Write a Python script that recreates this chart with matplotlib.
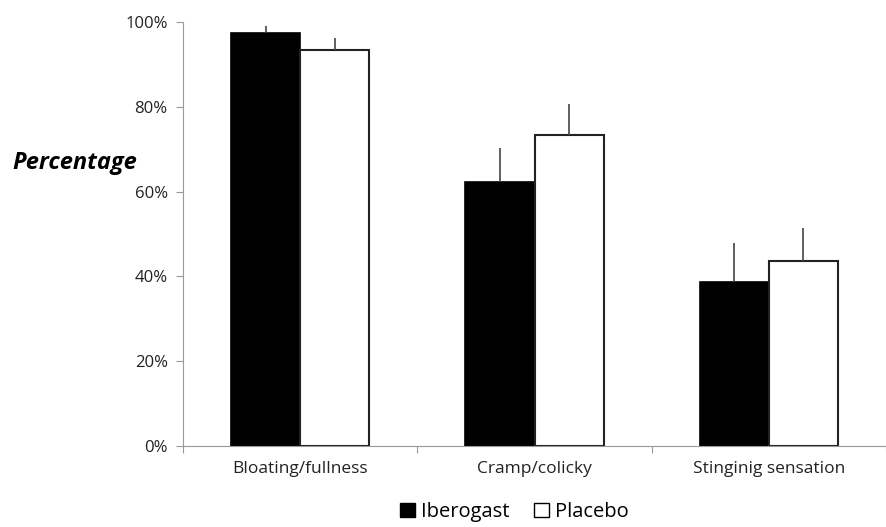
import numpy as np
import matplotlib.pyplot as plt
from matplotlib.patches import Patch

categories = ['Bloating/fullness', 'Cramp/colicky', 'Stinginig sensation']
iberogast = [97.4, 62.3, 38.7]
iberogast_err = [1.7, 8.0, 9.2]
placebo = [93.4, 73.3, 43.6]
placebo_err = [2.8, 7.4, 7.8]

plt.rcParams['font.family'] = ['Open Sans', 'DejaVu Sans']

fig = plt.figure(figsize=(8.87, 5.27), dpi=100)
ax = fig.add_axes([0.2063, 0.1537, 0.7927, 0.8046])

x = np.arange(len(categories)) + 0.5
w = 0.295
ax.bar(x - w/2, iberogast, w, color='black', edgecolor='black', linewidth=1.2)
ax.bar(x + w/2, placebo, w, color='white', edgecolor='#222222', linewidth=1.5)
ax.errorbar(x - w/2, iberogast, yerr=[np.zeros(3), iberogast_err], fmt='none',
            ecolor='#444444', elinewidth=1.2, capsize=0)
ax.errorbar(x + w/2, placebo, yerr=[np.zeros(3), placebo_err], fmt='none',
            ecolor='#444444', elinewidth=1.2, capsize=0)

ax.set_xlim(0, 3)
ax.set_ylim(0, 100)
ax.set_yticks(np.arange(0, 101, 20))
ax.set_yticklabels([f'{v}%' for v in range(0, 101, 20)], fontsize=12, color='#222222')
ax.set_xticks([0, 1, 2, 3])
ax.set_xticklabels([])
ax.set_xticks(x, minor=True)
ax.set_xticklabels(categories, minor=True, fontsize=12.5, color='#222222')
ax.tick_params(axis='x', which='minor', length=0, pad=11)
ax.tick_params(axis='x', which='major', length=5, color='#999999')
ax.tick_params(axis='y', length=5, color='#999999', pad=6)

for s in ['top', 'right']:
    ax.spines[s].set_visible(False)
for s in ['left', 'bottom']:
    ax.spines[s].set_color('#999999')

fig.text(0.014, 0.69, 'Percentage', fontsize=17, fontweight='bold', style='italic',
         ha='left', va='center')

handles = [Patch(facecolor='black', edgecolor='black', label='Iberogast'),
           Patch(facecolor='white', edgecolor='black', label='Placebo')]
fig.legend(handles=handles, loc='lower center', bbox_to_anchor=(0.58, -0.025), ncol=2,
           frameon=False, fontsize=14.5, handlelength=0.75, handleheight=0.75,
           handletextpad=0.3, columnspacing=1.2)

fig.savefig('out.png', dpi=100)
